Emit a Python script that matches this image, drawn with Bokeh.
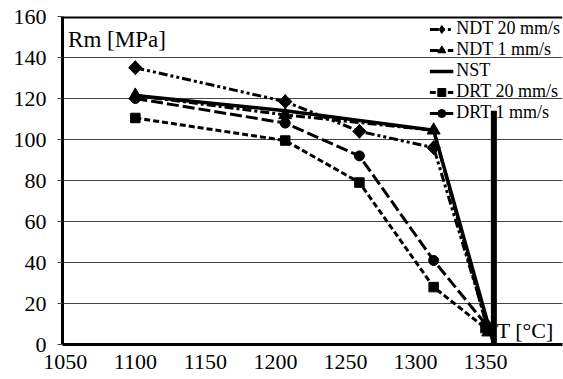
from bokeh.plotting import figure
from bokeh.models import Range1d, FixedTicker, Span, Label, Legend, LegendItem
from bokeh.embed import file_html
from bokeh.resources import INLINE

# ---- data ----
ndt20_x = [1100, 1207, 1260, 1313, 1352]
ndt20_y = [135.0, 118.5, 104.0, 96.0, 8.0]

ndt1_x = [1100, 1207, 1313, 1352]
ndt1_y = [121.5, 112.0, 104.5, 6.0]

nst_x = [1100, 1207, 1313, 1356]
nst_y = [121.5, 114.0, 104.5, 0.0]
nst_bar_x = [1356]
nst_bar_top = [114.0]

drt20_x = [1100, 1207, 1260, 1313, 1350]
drt20_y = [110.5, 99.5, 79.0, 28.0, 8.0]

drt1_x = [1100, 1207, 1260, 1313, 1350]
drt1_y = [120.0, 108.0, 92.0, 41.0, 10.0]

x_ticks = [1050, 1100, 1150, 1200, 1250, 1300, 1350]
y_ticks = [0, 20, 40, 60, 80, 100, 120, 140, 160]

FONT = "'Times New Roman', Tinos, 'Noto Serif', 'Liberation Serif', 'DejaVu Serif', FreeSerif, 'Liberation Sans'"

p = figure(width=563, height=379, output_backend="svg", toolbar_location=None,
           x_range=Range1d(1048, 1405), y_range=Range1d(0, 160),
           min_border_left=62, min_border_top=16, min_border_right=1,
           min_border_bottom=35)
p.background_fill_color = "white"
p.border_fill_color = "white"
p.outline_line_color = None

# axes
for ax in (p.xaxis[0], p.yaxis[0]):
    ax.axis_line_width = 3
    ax.axis_line_color = "black"
    ax.major_label_text_font = FONT
    ax.major_label_text_font_size = "22px"
    ax.major_label_text_color = "black"
    ax.minor_tick_line_color = None
    ax.major_tick_in = 0

p.xaxis[0].ticker = FixedTicker(ticks=x_ticks)
p.xaxis[0].major_tick_out = 0
p.xaxis[0].major_label_standoff = 10
p.yaxis[0].ticker = FixedTicker(ticks=y_ticks)
p.yaxis[0].major_tick_out = 5
p.yaxis[0].major_tick_line_color = "#444444"
p.yaxis[0].major_tick_line_width = 1
p.yaxis[0].major_label_standoff = 11

p.xgrid.grid_line_color = None
p.ygrid.ticker = FixedTicker(ticks=[20, 40, 60, 80, 100, 120, 140])
p.ygrid.grid_line_color = "#444444"
p.ygrid.grid_line_width = 1

# top frame line
p.add_layout(Span(location=160, dimension="width", line_color="black", line_width=4))

# series
r_ndt20_l = p.line(ndt20_x, ndt20_y, line_color="black", line_width=3, line_dash="9 3 3 3 3 3")
r_ndt20_key = p.scatter(ndt20_x, ndt20_y, marker="diamond", size=14, color="black")
r_ndt20_m = p.scatter(ndt20_x, ndt20_y, marker="square", angle=0.785, size=9.5, color="black")

r_ndt1_l = p.line(ndt1_x, ndt1_y, line_color="black", line_width=3, line_dash="9 3 3 3")
r_ndt1_m = p.scatter(ndt1_x, ndt1_y, marker="triangle", size=13, color="black")

r_nst_l = p.line(nst_x, nst_y, line_color="black", line_width=3.5)
r_nst_bar = p.segment(x0=nst_bar_x, y0=[0] * len(nst_bar_x), x1=nst_bar_x, y1=nst_bar_top,
                      line_color="black", line_width=6)

r_drt20_l = p.line(drt20_x, drt20_y, line_color="black", line_width=3, line_dash="6 3")
r_drt20_m = p.scatter(drt20_x, drt20_y, marker="square", size=9.5, color="black")

r_drt1_l = p.line(drt1_x, drt1_y, line_color="black", line_width=3, line_dash="12 4")
r_drt1_m = p.scatter(drt1_x, drt1_y, marker="circle", size=10, color="black")

legend = Legend(items=[
    LegendItem(label="NDT 20 mm/s", renderers=[r_ndt20_l, r_ndt20_key]),
    LegendItem(label="NDT 1 mm/s", renderers=[r_ndt1_l, r_ndt1_m]),
    LegendItem(label="NST", renderers=[r_nst_l]),
    LegendItem(label="DRT 20 mm/s", renderers=[r_drt20_l, r_drt20_m]),
    LegendItem(label="DRT 1 mm/s", renderers=[r_drt1_l, r_drt1_m]),
], location="top_right")
legend.background_fill_alpha = 0
legend.border_line_color = None
legend.label_text_font = FONT
legend.label_text_font_size = "18px"
legend.label_text_color = "black"
legend.glyph_width = 24
legend.glyph_height = 20
legend.label_height = 20
legend.spacing = 0
legend.padding = 0
legend.margin = 2
legend.label_standoff = 3
p.add_layout(legend)

p.add_layout(Label(x=1052, y=149, text="Rm [MPa]", text_font=FONT, text_font_size="23px",
                   text_color="black", text_baseline="middle"))
p.add_layout(Label(x=1358, y=7, text="T [°C]", text_font=FONT, text_font_size="22px",
                   text_color="black", text_baseline="middle"))

open("out.html", "w").write(file_html(p, INLINE))
